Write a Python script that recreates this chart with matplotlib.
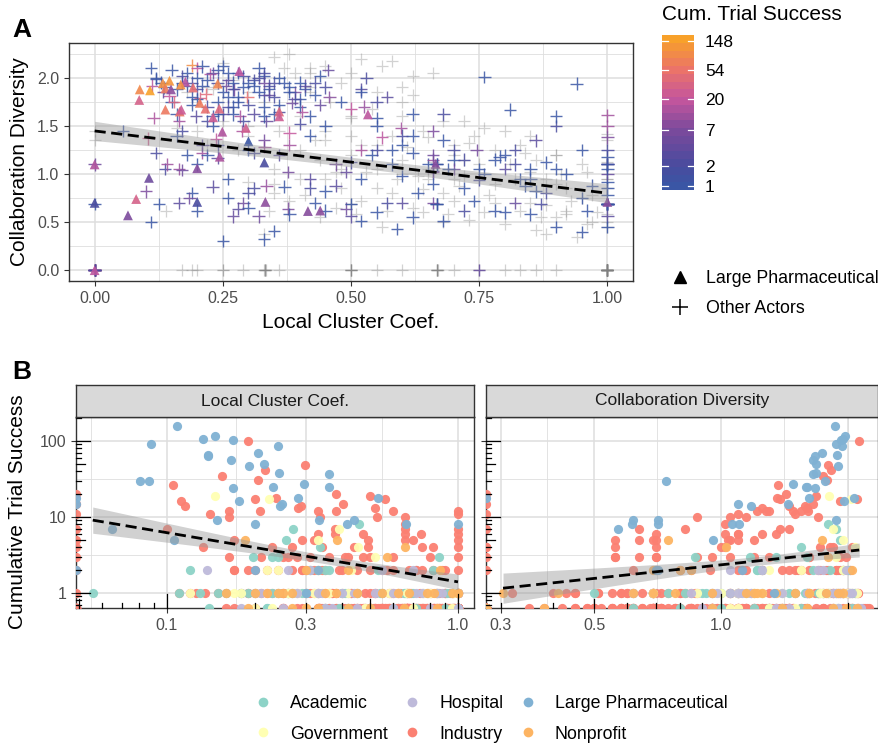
import numpy as np
import matplotlib
matplotlib.use('Agg')
import matplotlib.pyplot as plt
from matplotlib.colors import LinearSegmentedColormap, Normalize
from matplotlib.lines import Line2D
from matplotlib.patches import Rectangle
from matplotlib.ticker import NullFormatter

plt.rcParams['font.family'] = ['Liberation Sans', 'DejaVu Sans']

# one row per actor: (local cluster coef, collaboration diversity, cumulative trial success)
pharma = [
    (0.088, 1.88, 91), (0.108, 1.87, 159), (0.133, 1.945, 106), (0.138, 1.89, 66),
    (0.146, 1.97, 117), (0.149, 1.88, 9), (0.177, 1.96, 16), (0.192, 1.90, 47),
    (0.168, 1.93, 103), (0.240, 1.94, 86), (0.166, 1.65, 56), (0.138, 1.67, 63),
    (0.169, 1.67, 24), (0.205, 1.74, 69), (0.216, 1.68, 50), (0.087, 1.77, 30),
    (0.231, 1.59, 25), (0.243, 1.68, 38), (0.249, 1.44, 15), (0.244, 1.18, 14),
    (0.295, 1.48, 27), (0.300, 1.34, 1), (0.282, 2.07, 18), (0.360, 1.65, 37),
    (0.360, 1.60, 25), (0.331, 1.12, 2), (0.200, 1.06, 8), (0.0, 1.10, 15),
    (0.0, 0.70, 2), (0.0, 0.0, 18), (0.106, 0.96, 5), (0.081, 0.74, 30),
    (0.065, 0.57, 7), (0.200, 0.71, 2), (0.333, 0.71, 9), (0.440, 0.62, 9),
    (0.533, 1.62, 18), (0.665, 1.105, 8), (0.416, 0.615, 8), (1.0, 0.71, 8),
]

industry = [
    (0.190, 2.13, 100), (0.298, 1.80, 49), (0.155, 1.75, 35), (0.105, 1.37, 26),
    (0.112, 1.92, 16), (0.115, 1.58, 14), (0.205, 1.79, 31), (0.217, 1.83, 42),
    (0.237, 1.36, 18), (0.200, 2.10, 17), (0.209, 1.22, 12), (0.164, 1.55, 12),
    (0.164, 1.05, 10), (0.141, 1.10, 11), (0.283, 1.60, 13), (0.288, 1.45, 14),
    (0.331, 1.28, 12), (0.335, 0.88, 10), (0.380, 1.43, 20), (0.404, 1.65, 15),
    (0.380, 1.30, 12), (0.377, 0.64, 7), (0.377, 1.02, 6), (0.500, 1.68, 19),
    (0.520, 1.25, 13), (0.525, 1.70, 10), (0.560, 1.38, 17), (0.597, 1.48, 12),
    (0.660, 1.15, 10), (0.660, 1.02, 8), (0.660, 1.45, 7), (0.660, 0.70, 6),
    (0.660, 1.20, 5), (0.745, 1.25, 6), (0.700, 1.05, 5), (0.820, 0.70, 4),
    (0.470, 1.10, 6), (0.490, 0.64, 5), (0.490, 1.02, 4), (0.500, 0.56, 3),
    (0.320, 0.56, 5), (0.330, 1.35, 6), (0.270, 0.56, 4), (0.290, 0.70, 5),
    (0.250, 1.62, 3), (0.170, 1.04, 5), (0.133, 1.85, 4), (0.164, 0.70, 3),
    (0.100, 0.82, 7),
    (1.0, 1.61, 12), (1.0, 1.50, 11), (1.0, 1.38, 7), (1.0, 1.10, 6),
    (1.0, 0.69, 5), (1.0, 1.00, 4), (1.0, 0.56, 3), (1.0, 1.25, 2),
    (0.210, 1.30, 3), (0.280, 0.64, 3), (0.360, 1.20, 3), (0.420, 0.95, 3),
    (0.600, 0.70, 3), (0.800, 1.05, 3), (0.260, 1.98, 3), (0.340, 1.82, 4),
    (0.230, 2.05, 4), (0.410, 1.92, 3), (0.310, 1.62, 3), (0.440, 1.72, 4),
    (0.470, 0.88, 3),
    (0.170, 2.02, 2), (0.200, 1.88, 2), (0.240, 1.95, 2), (0.300, 1.72, 2),
    (0.350, 1.80, 2), (0.400, 1.52, 2), (0.500, 1.12, 2), (0.600, 1.40, 2),
    (0.750, 0.94, 2), (0.190, 1.95, 2), (0.270, 1.88, 2), (0.320, 2.00, 2),
    (0.390, 1.78, 2), (0.220, 1.70, 2), (0.450, 1.90, 2), (0.290, 1.55, 2),
    (0.170, 1.45, 2), (0.550, 1.25, 2), (0.680, 1.62, 2), (0.820, 1.10, 2),
    (0.900, 1.50, 2), (0.290, 2.02, 2), (0.340, 1.92, 2), (0.570, 0.70, 2),
    (0.720, 1.15, 2), (0.880, 0.80, 2), (0.310, 0.85, 2), (0.720, 0.62, 2),
    (0.110, 2.10, 1), (0.120, 1.99, 1), (0.135, 1.90, 1), (0.200, 2.00, 1),
    (0.250, 1.85, 1), (0.300, 1.95, 1), (0.350, 1.62, 1), (0.450, 1.50, 1),
    (0.600, 1.30, 1), (0.900, 1.60, 1), (0.220, 1.98, 1), (0.260, 2.05, 1),
    (0.280, 1.80, 1), (0.310, 1.92, 1), (0.330, 1.70, 1), (0.360, 2.00, 1),
    (0.380, 1.85, 1), (0.400, 1.95, 1), (0.240, 1.75, 1), (0.180, 1.92, 1),
    (0.150, 2.08, 1), (0.420, 1.60, 1), (0.480, 1.75, 1), (0.520, 0.51, 1),
    (0.590, 0.43, 1), (0.680, 0.51, 1), (0.760, 2.01, 1), (0.940, 1.94, 1),
    (0.860, 0.82, 1), (0.550, 0.60, 1), (0.300, 0.65, 1), (0.190, 0.80, 1),
    (0.126, 0.69, 1), (0.370, 0.87, 1), (0.330, 0.32, 1), (0.810, 1.67, 1),
    (0.160, 1.88, 1), (0.210, 2.12, 1), (0.270, 1.70, 1), (0.320, 1.85, 1),
    (0.370, 1.95, 1), (0.430, 1.82, 1), (0.230, 1.60, 1), (0.190, 1.72, 1),
    (0.250, 2.12, 1), (0.520, 0.95, 1), (0.580, 1.10, 1), (0.630, 0.80, 1),
    (0.690, 1.05, 1), (0.740, 0.72, 1), (0.790, 1.18, 1), (0.840, 0.88, 1),
    (0.900, 1.05, 1), (0.960, 0.62, 1), (1.0, 0.85, 1), (1.0, 1.05, 1),
    (1.0, 0.69, 1), (1.0, 0.69, 1), (0.667, 0.69, 1), (0.667, 1.10, 1),
    (0.500, 0.69, 1), (1.0, 1.10, 1), (0.800, 0.60, 1), (0.900, 0.45, 1),
    (0.260, 0.75, 1), (0.380, 0.58, 1), (0.430, 0.70, 1), (0.620, 0.55, 1),
    (0.850, 0.58, 1), (1.0, 0.45, 1), (0.950, 0.40, 1),
    (0.750, 0.00, 4),
    (0.0, 0.0, 20), (0.0, 0.0, 15), (0.0, 0.0, 11), (0.0, 0.0, 7), (0.0, 0.0, 4),
    (0.0, 0.0, 3), (0.0, 0.0, 2), (0.0, 1.10, 5), (0.0, 0.69, 1),
    (0.0, 1.35, 0), (0.0, 1.45, 0),
    (0.0, 0.0, 0), (0.0, 0.0, 0), (0.0, 0.0, 0), (0.0, 0.0, 0), (0.0, 0.0, 0),
    (0.0, 0.0, 0), (0.0, 0.0, 0), (0.0, 0.0, 0), (0.0, 0.0, 0), (0.0, 0.0, 0),
    (0.0, 0.0, 0), (0.0, 0.0, 0),
    (0.170, 0.0, 0), (0.250, 0.0, 0), (0.290, 0.0, 0), (0.330, 0.0, 0),
    (0.335, 0.0, 0), (0.360, 0.0, 0), (0.500, 0.0, 0), (0.550, 0.0, 0),
    (0.600, 0.0, 0), (0.670, 0.0, 0), (0.700, 0.0, 0), (0.800, 0.0, 0),
    (0.830, 0.0, 0), (1.0, 0.0, 0), (0.250, 0.0, 0), (0.750, 0.0, 0),
    (1.0, 0.0, 0), (1.0, 0.0, 0), (1.0, 0.0, 0), (1.0, 0.0, 0),
    (1.0, 0.0, 0), (1.0, 0.0, 0), (1.0, 0.0, 0), (1.0, 0.0, 0),
    (1.0, 0.0, 0), (1.0, 0.0, 0), (1.0, 0.0, 0), (1.0, 0.0, 0),
    (1.0, 0.0, 0), (1.0, 0.0, 0), (1.0, 0.0, 0), (1.0, 0.0, 0),
    (1.0, 0.0, 0), (0.900, 0.0, 0), (0.860, 0.0, 0),
    (0.667, 0.0, 0), (0.667, 0.0, 0), (0.667, 0.0, 0), (0.667, 0.0, 0),
    (0.667, 0.0, 0), (0.333, 0.0, 0), (0.333, 0.0, 0), (0.333, 0.0, 0),
    (0.333, 0.0, 0), (0.500, 0.0, 0), (0.500, 0.0, 0), (0.500, 0.0, 0),
    (0.500, 0.0, 0),
    (1.0, 0.69, 0), (1.0, 0.69, 0), (1.0, 0.69, 0), (0.667, 0.69, 0),
    (0.667, 0.69, 0), (0.500, 0.69, 0), (0.500, 0.69, 0), (1.0, 1.10, 0),
    (1.0, 1.10, 0), (0.667, 1.10, 0),
    (0.860, 0.42, 0), (0.900, 0.55, 0), (0.940, 0.35, 0), (0.980, 0.60, 0),
    (1.0, 0.50, 0), (0.880, 0.38, 0), (0.960, 0.48, 0), (0.920, 0.62, 0),
    (0.300, 0.92, 0), (0.340, 0.62, 0), (0.410, 0.78, 0), (0.450, 0.95, 0),
    (0.510, 0.58, 0), (0.550, 0.85, 0), (0.590, 0.95, 0), (0.640, 0.60, 0),
    (0.680, 0.80, 0), (0.730, 0.52, 0), (0.780, 0.70, 0), (0.830, 0.62, 0),
    (0.880, 0.68, 0), (0.930, 0.72, 0), (0.970, 0.50, 0), (1.0, 0.45, 0),
    (0.380, 2.25, 0), (0.450, 2.12, 0), (0.500, 2.05, 0), (0.580, 2.18, 0),
    (0.620, 2.02, 0), (0.720, 1.15, 0), (0.780, 0.90, 0), (0.550, 1.85, 0),
    (0.480, 1.95, 0), (0.600, 1.75, 0), (0.680, 1.55, 0), (0.750, 1.10, 0),
    (0.850, 1.02, 0), (0.920, 0.85, 0), (1.0, 0.85, 0), (1.0, 1.35, 0),
    (1.0, 1.42, 0), (0.450, 1.45, 0), (0.520, 1.30, 0), (0.580, 1.40, 0),
    (0.650, 1.38, 0), (0.700, 1.20, 0), (0.780, 1.25, 0), (0.880, 0.95, 0),
    (0.950, 0.75, 0), (0.400, 1.25, 0), (0.440, 1.15, 0), (0.500, 1.20, 0),
    (0.550, 1.05, 0), (0.600, 1.15, 0), (0.660, 1.12, 0), (0.720, 0.98, 0),
    (0.820, 0.95, 0), (0.900, 0.90, 0), (1.0, 1.12, 0), (0.350, 1.05, 0),
    (0.400, 0.95, 0), (0.480, 0.85, 0), (0.520, 0.72, 0), (0.580, 0.80, 0),
    (0.620, 0.65, 0), (0.700, 0.72, 0), (0.760, 0.60, 0), (0.850, 0.70, 0),
    (0.920, 0.58, 0), (1.0, 0.69, 0), (0.440, 0.55, 0), (0.560, 0.45, 0),
    (0.680, 0.50, 0), (0.800, 0.48, 0), (0.380, 0.72, 0), (0.300, 1.40, 0),
    (0.250, 1.55, 0), (0.200, 1.45, 0), (0.330, 1.75, 0), (0.420, 1.85, 0),
    (0.280, 1.25, 0), (0.360, 1.45, 0), (0.160, 1.48, 0), (0.640, 0.84, 0),
    (0.740, 1.40, 0), (0.900, 1.20, 0), (0.960, 1.02, 0), (0.500, 1.58, 0),
    (0.540, 1.68, 0), (0.470, 0.65, 0), (0.640, 1.45, 0), (0.700, 0.95, 0),
    (0.830, 1.30, 0), (0.600, 1.60, 0), (0.760, 1.48, 0), (0.860, 1.15, 0),
    (0.530, 1.02, 0), (0.570, 0.62, 0), (0.610, 1.28, 0), (0.650, 1.05, 0),
    (0.690, 0.58, 0), (0.730, 1.32, 0), (0.770, 0.78, 0), (0.810, 1.10, 0),
    (0.870, 0.55, 0), (0.910, 1.00, 0), (0.970, 0.78, 0), (1.0, 0.95, 0),
    (1.0, 0.58, 0), (0.630, 0.98, 0), (0.710, 0.88, 0), (0.840, 1.22, 0),
    (0.550, 1.30, 0), (0.470, 1.02, 0), (0.430, 1.35, 0), (0.400, 1.60, 0),
    (0.460, 1.75, 0), (0.520, 2.20, 0), (0.560, 2.12, 0), (0.350, 2.22, 0),
    (0.420, 2.05, 0), (0.660, 2.05, 0), (0.620, 1.82, 0),
]

academic = [
    (0.0556, 1.45, 1), (0.120, 1.22, 2), (0.272, 1.88, 7), (0.256, 1.92, 5),
    (0.458, 1.80, 8), (0.230, 0.87, 3), (0.240, 1.17, 3), (0.198, 1.60, 3),
    (0.335, 1.55, 4), (0.860, 1.35, 3), (0.820, 1.25, 2), (0.310, 1.22, 2),
    (0.360, 1.65, 2), (0.530, 2.00, 2), (0.350, 1.95, 2), (0.330, 1.82, 2),
    (0.110, 0.50, 1), (0.130, 1.95, 1), (0.150, 1.75, 1), (0.160, 1.40, 1),
    (0.180, 2.05, 1), (0.200, 1.10, 1), (0.230, 1.50, 1), (0.260, 0.95, 1),
    (0.300, 1.25, 1), (0.330, 2.02, 1), (0.400, 1.70, 1), (0.450, 0.82, 1),
    (0.550, 1.58, 1), (0.650, 1.10, 1), (0.700, 1.15, 1), (0.850, 1.05, 1),
    (0.950, 0.75, 1), (0.190, 1.80, 1), (0.240, 2.08, 1), (0.290, 1.90, 1),
    (0.410, 1.88, 1), (0.270, 1.62, 1), (0.540, 1.20, 1), (0.660, 0.90, 1),
    (0.780, 0.62, 1), (0.920, 1.00, 1), (1.0, 0.92, 1), (1.0, 0.69, 1),
    (0.667, 0.69, 1),
    (0.140, 0.62, 0), (0.220, 1.30, 0), (0.350, 0.80, 0), (0.420, 1.90, 0),
    (0.500, 1.40, 0), (0.600, 1.00, 0), (0.720, 1.55, 0), (0.900, 1.20, 0),
    (1.0, 0.0, 0), (0.220, 1.90, 0), (0.390, 2.05, 0),
]

government = [
    (0.146, 1.81, 19), (0.225, 2.04, 17), (0.390, 1.85, 7), (0.455, 2.08, 4),
    (0.330, 1.95, 5), (0.220, 1.55, 2), (0.240, 1.30, 2), (0.520, 1.88, 3),
    (0.430, 1.95, 2),
    (1.0, 0.69, 1), (0.120, 2.00, 1), (0.180, 1.20, 1), (0.280, 1.75, 1),
    (0.420, 1.40, 1), (0.620, 1.62, 1), (0.800, 1.20, 1), (0.170, 1.95, 1),
    (0.260, 1.80, 1), (0.320, 2.10, 1), (0.360, 1.72, 1), (0.580, 1.25, 1),
    (0.760, 1.00, 1), (0.970, 0.88, 1), (0.667, 1.10, 1),
    (0.200, 0.0, 0), (0.300, 1.50, 0), (0.480, 1.05, 0), (0.700, 1.30, 0),
    (0.950, 1.10, 0), (0.230, 1.88, 0),
]

hospital = [
    (0.137, 1.05, 2), (0.550, 1.75, 2), (0.700, 1.25, 2), (0.260, 1.70, 2),
    (0.310, 1.98, 2),
    (0.330, 1.60, 1), (0.520, 1.85, 1), (0.620, 1.40, 1), (0.750, 1.05, 1),
    (0.850, 0.95, 1), (0.200, 0.62, 1), (0.210, 1.92, 1), (0.280, 2.05, 1),
    (0.340, 1.88, 1), (0.400, 1.78, 1), (0.440, 2.02, 1), (0.600, 0.98, 1),
    (0.720, 0.85, 1), (0.880, 1.12, 1), (1.0, 1.18, 1), (1.0, 1.10, 1),
    (0.250, 2.15, 0), (0.450, 1.35, 0), (0.600, 1.90, 0), (0.800, 1.45, 0),
    (1.0, 0.95, 0), (0.350, 0.90, 0), (0.180, 1.85, 0), (0.370, 2.10, 0),
]

nonprofit = [
    (0.185, 0.75, 5), (0.385, 1.74, 5), (0.570, 1.80, 3), (0.660, 1.03, 4),
    (0.870, 0.69, 2), (0.300, 0.80, 2), (0.420, 0.85, 2), (0.330, 2.05, 2),
    (0.250, 0.304, 1), (0.350, 0.41, 1), (0.220, 1.20, 1), (0.450, 0.62, 1),
    (0.550, 1.50, 1), (0.680, 1.35, 1), (0.780, 1.15, 1), (0.950, 1.25, 1),
    (0.160, 1.62, 1), (0.200, 1.78, 1), (0.270, 1.95, 1), (0.380, 1.90, 1),
    (0.240, 1.62, 1), (0.620, 1.22, 1), (0.830, 0.95, 1), (1.0, 0.78, 1),
    (1.0, 0.69, 1),
    (0.190, 0.0, 0), (0.330, 0.38, 0), (0.500, 1.60, 0), (0.650, 0.95, 0),
    (0.850, 1.40, 0), (0.270, 1.98, 0), (0.420, 2.10, 0), (0.300, 1.85, 0),
]

actor_types = ['Academic', 'Government', 'Hospital', 'Industry',
               'Large Pharmaceutical', 'Nonprofit']
actor_data = {'Academic': academic, 'Government': government,
              'Hospital': hospital, 'Industry': industry,
              'Large Pharmaceutical': pharma, 'Nonprofit': nonprofit}
actor_colors = {'Academic': '#8DD3C7', 'Government': '#FFFFB3',
                'Hospital': '#BEBADA', 'Industry': '#FB8072',
                'Large Pharmaceutical': '#80B1D3', 'Nonprofit': '#FDB462'}
success_breaks = [1, 2, 7, 20, 54, 148]

W, H = 879, 748
fig = plt.figure(figsize=(W / 100, H / 100), dpi=100)


def box(l, t, r, b):
    return [l / W, 1 - b / H, (r - l) / W, (b - t) / H]


def fit_band(x, y, xs):
    # ordinary least squares with 95% confidence band of the mean
    n = len(x)
    slope, icpt = np.polyfit(x, y, 1)
    resid = y - (icpt + slope * x)
    s = np.sqrt(np.sum(resid ** 2) / (n - 2))
    sxx = np.sum((x - x.mean()) ** 2)
    yhat = icpt + slope * xs
    se = s * np.sqrt(1 / n + (xs - x.mean()) ** 2 / sxx)
    return yhat, yhat - 1.97 * se, yhat + 1.97 * se


grid_col = '#DEDEDE'
frame_col = '#333333'
tick_col = '#4D4D4D'

all_rows = np.array([r for t in actor_types for r in actor_data[t]], dtype=float)

# ---------------- panel A ----------------
cmap = LinearSegmentedColormap.from_list(
    'succ', [(0.0, '#3A56A5'), (0.14, '#4A4C9F'), (0.38, '#7B4A9C'),
             (0.59, '#C4569E'), (0.79, '#EB736A'), (1.0, '#F8A12A')])
vmax = np.log(all_rows[:, 2].max())
norm = Normalize(0, vmax)

ax = fig.add_axes(box(69, 43, 633, 281))
ax.set_xlim(-0.05, 1.05)
ax.set_ylim(-0.1125, 2.3625)
ax.set_xticks([0, 0.25, 0.5, 0.75, 1.0])
ax.set_xticklabels(['0.00', '0.25', '0.50', '0.75', '1.00'])
ax.set_yticks([0, 0.5, 1.0, 1.5, 2.0])
ax.set_yticklabels(['0.0', '0.5', '1.0', '1.5', '2.0'])
ax.set_xticks([0.125, 0.375, 0.625, 0.875], minor=True)
ax.set_yticks([0.25, 0.75, 1.25, 1.75, 2.25], minor=True)
ax.grid(True, which='major', color=grid_col, lw=1.1)
ax.grid(True, which='minor', color=grid_col, lw=0.6)
ax.set_axisbelow(True)
ax.tick_params(which='major', length=3.5, width=0.8, color=frame_col,
               labelsize=11.5, labelcolor=tick_col)
ax.tick_params(which='minor', length=0)
for sp in ax.spines.values():
    sp.set_color(frame_col)
    sp.set_linewidth(1.0)

others = np.array([r for t in actor_types if t != 'Large Pharmaceutical'
                   for r in actor_data[t]], dtype=float)
ph = np.array(pharma, dtype=float)
zero = others[:, 2] == 0
ax.scatter(others[zero, 0], others[zero, 1], marker='+', s=80, lw=0.9,
           color='#7F7F7F', alpha=0.35, zorder=2)
pos = ~zero
ax.scatter(others[pos, 0], others[pos, 1], marker='+', s=80, lw=1.0,
           c=np.log(others[pos, 2]), cmap=cmap, norm=norm, alpha=0.85, zorder=3)
ax.scatter(ph[:, 0], ph[:, 1], marker='^', s=50, lw=0,
           c=np.log(ph[:, 2]), cmap=cmap, norm=norm, alpha=0.9, zorder=4)

xs = np.linspace(all_rows[:, 0].min(), all_rows[:, 0].max(), 100)
yhat, lo, hi = fit_band(all_rows[:, 0], all_rows[:, 1], xs)
ax.fill_between(xs, lo, hi, color='#999999', alpha=0.45, lw=0, zorder=5)
ax.plot(xs, yhat, color='black', lw=2.0, dashes=(4, 2), zorder=6)

ax.set_xlabel('Local Cluster Coef.', fontsize=15, labelpad=5)
ax.set_ylabel('Collaboration Diversity', fontsize=15, labelpad=6)
fig.text(12 / W, 1 - 30 / H, 'A', fontsize=19, weight='bold', va='center')

# colour bar legend
cax = fig.add_axes(box(662, 35, 694, 190))
nbin = 20
h = vmax / (nbin - 1)
vals = np.linspace(0, vmax, nbin).reshape(-1, 1)
cax.imshow(vals, extent=[0, 1, -h / 2, vmax + h / 2], origin='lower',
           aspect='auto', cmap=cmap, norm=norm)
cax.set_xlim(0, 1)
cax.set_ylim(-h / 2, vmax + h / 2)
cax.set_xticks([])
brk = np.log(success_breaks)
cax.yaxis.tick_right()
cax.set_yticks(brk)
cax.set_yticklabels([str(v) for v in success_breaks])
cax.tick_params(axis='y', length=0, pad=8, labelsize=12.5)
for sp in cax.spines.values():
    sp.set_visible(False)
for b in brk:
    cax.plot([0, 0.2], [b, b], color='white', lw=0.9)
    cax.plot([0.8, 1], [b, b], color='white', lw=0.9)
fig.text(662 / W, 1 - 15 / H, 'Cum. Trial Success', fontsize=15, va='center')

shape_handles = [
    Line2D([], [], marker='^', color='black', ls='None', markersize=8),
    Line2D([], [], marker='+', color='black', ls='None', markersize=11,
           markeredgewidth=1.1),
]
fig.legend(shape_handles, ['Large Pharmaceutical', 'Other Actors'],
           loc='upper left', bbox_to_anchor=(660 / W, 1 - 261 / H),
           frameon=False, fontsize=12.8, handlelength=1.2,
           handletextpad=0.9, labelspacing=0.75, borderpad=0)

# ---------------- panel B ----------------
ylo, yhi = 0.635, 207
facets = [
    ('Local Cluster Coef.', 0, box(76, 417, 474, 608), (0.0487, 1.135),
     [0.1, 0.3, 1.0], ['0.1', '0.3', '1.0'], [0.0548, 0.173, 0.548]),
    ('Collaboration Diversity', 1, box(486, 417, 878, 608), (0.277, 2.36),
     [0.3, 0.5, 1.0], ['0.3', '0.5', '1.0'], [0.387, 0.707, 1.414, 2.0]),
]


def log_ticks(axb, lo_, hi_, axis, span_px):
    for k in range(-2, 3):
        for m in range(1, 10):
            v = m * 10.0 ** k
            if not lo_ <= v <= hi_:
                continue
            L = (14 if m == 1 else 9 if m == 5 else 5) / span_px
            if axis == 'y':
                axb.plot([0, L], [v, v], transform=axb.get_yaxis_transform(),
                         color='black', lw=0.9, clip_on=False, zorder=7)
            else:
                axb.plot([v, v], [0, L], transform=axb.get_xaxis_transform(),
                         color='black', lw=0.9, clip_on=False, zorder=7)


for i, (title, col, rect, xlim, xt, xtl, xminor) in enumerate(facets):
    axb = fig.add_axes(rect)
    axb.set_xscale('log')
    axb.set_yscale('log')
    axb.set_xlim(*xlim)
    axb.set_ylim(ylo, yhi)
    axb.set_xticks(xt)
    axb.set_xticklabels(xtl)
    axb.set_xticks(xminor, minor=True)
    axb.xaxis.set_minor_formatter(NullFormatter())
    axb.set_yticks([1, 10, 100])
    axb.set_yticks([10 ** 0.5, 10 ** 1.5], minor=True)
    axb.yaxis.set_minor_formatter(NullFormatter())
    if i == 0:
        axb.set_yticklabels(['1', '10', '100'])
    else:
        axb.set_yticklabels(['', '', ''])
    axb.grid(True, which='major', color=grid_col, lw=1.1)
    axb.grid(True, which='minor', color=grid_col, lw=0.6)
    if i == 1:
        axb.axvline(2.0, color=grid_col, lw=1.1, zorder=0)
    axb.set_axisbelow(True)
    axb.tick_params(which='major', length=3.5, width=0.8, color=frame_col,
                    labelsize=11.5, labelcolor=tick_col)
    axb.tick_params(which='minor', length=0)
    for sp in axb.spines.values():
        sp.set_color(frame_col)
        sp.set_linewidth(1.0)

    order = ['Industry', 'Academic', 'Government', 'Hospital', 'Nonprofit',
             'Large Pharmaceutical']
    for t in order:
        arr = np.array(actor_data[t], dtype=float)
        xv = np.where(arr[:, col] > 0, arr[:, col], xlim[0])
        yv = np.where(arr[:, 2] > 0, arr[:, 2], ylo)
        axb.scatter(xv, yv, s=44, color=actor_colors[t], lw=0, alpha=0.95,
                    zorder=3)

    ok = (all_rows[:, col] > 0) & (all_rows[:, 2] > 0)
    lx = np.log10(all_rows[ok, col])
    ly = np.log10(all_rows[ok, 2])
    xs = np.linspace(lx.min(), lx.max(), 100)
    yhat, lo, hi = fit_band(lx, ly, xs)
    axb.fill_between(10 ** xs, 10 ** lo, 10 ** hi, color='#999999',
                     alpha=0.45, lw=0, zorder=5)
    axb.plot(10 ** xs, 10 ** yhat, color='black', lw=2.0, dashes=(4, 2),
             zorder=6)

    rect_px = rect[2] * W, rect[3] * H
    log_ticks(axb, ylo, yhi, 'y', rect_px[0])
    log_ticks(axb, xlim[0], xlim[1], 'x', rect_px[1])

    sax = fig.add_axes([rect[0], rect[1] + rect[3], rect[2], 32 / H])
    sax.add_patch(Rectangle((0, 0), 1, 1, transform=sax.transAxes,
                            facecolor='#D9D9D9', edgecolor='none'))
    sax.set_xticks([])
    sax.set_yticks([])
    for sp in sax.spines.values():
        sp.set_color(frame_col)
        sp.set_linewidth(1.0)
    sax.text(0.5, 0.5, title, ha='center', va='center', fontsize=12.5,
             color='#1A1A1A', transform=sax.transAxes)

fig.text(18 / W, 1 - 512 / H, 'Cumulative Trial Success', rotation=90,
         ha='center', va='center', fontsize=15)
fig.text(12 / W, 1 - 372 / H, 'B', fontsize=19, weight='bold', va='center')

type_handles = [Line2D([], [], marker='o', ls='None', markersize=7,
                       markerfacecolor=actor_colors[t], markeredgewidth=0)
                for t in actor_types]
fig.legend(type_handles, actor_types, loc='center', ncol=3,
           bbox_to_anchor=(490 / W, 1 - 719 / H), frameon=False,
           fontsize=12.8, handlelength=1.2, handletextpad=0.9,
           columnspacing=0.8, labelspacing=0.75)

fig.savefig('out.png', dpi=100)
